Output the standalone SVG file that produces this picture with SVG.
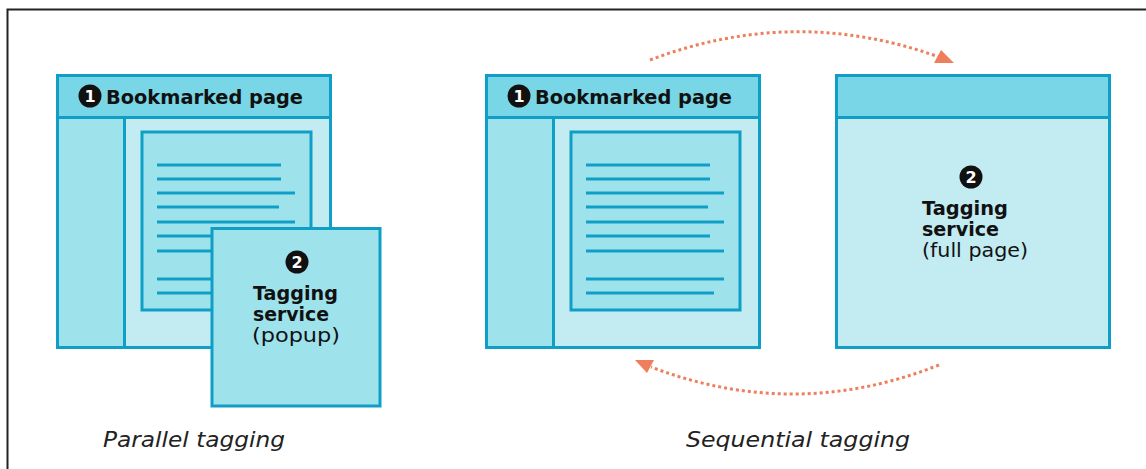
<svg xmlns="http://www.w3.org/2000/svg" width="1146" height="469" viewBox="0 0 1146 469">
<defs>
<style>
.hdr{fill:#78d6e6;stroke:#0f9fc6;stroke-width:3}
.mid{fill:#9ee2ec;stroke:#0f9fc6;stroke-width:3}
.lt{fill:#c2ebf2;stroke:#0f9fc6;stroke-width:3}
.ln{stroke:#0f9fc6;stroke-width:3;fill:none}
.b{font-family:"DejaVu Sans","Liberation Sans",sans-serif;font-weight:bold;fill:#111}
.r{font-family:"DejaVu Sans","Liberation Sans",sans-serif;fill:#111}
.it{font-family:"DejaVu Sans","Liberation Sans",sans-serif;font-style:italic;fill:#222;font-size:21px}
.num{font-family:"DejaVu Sans","Liberation Sans",sans-serif;font-weight:bold;fill:#fff;font-size:16px;text-anchor:middle}
.arc{fill:none;stroke:#ef7f5c;stroke-width:3;stroke-dasharray:3 3}
.ah{fill:#ef7f5c}
</style>
</defs>
<rect width="1146" height="469" fill="#fff"/>
<path d="M7.5 469 V9.5 H1146" fill="none" stroke="#222" stroke-width="2"/>

<g id="parallel-bookmarked">
<rect class="lt" x="57.5" y="75.5" width="273" height="272"/>
<rect class="mid" x="57.5" y="117.5" width="67" height="230"/>
<rect class="hdr" x="57.5" y="75.5" width="273" height="42"/>
<rect class="mid" x="142" y="132" width="169" height="178"/>
<g class="ln">
<path d="M157 165H281M157 179H281M157 193H295M157 207H279M157 222H295M157 236H281M157 251H295M157 279H295M157 293H285"/>
</g>
<circle cx="90" cy="96" r="11.5" fill="#111"/>
<text class="num" x="90" y="101.8">1</text>
<text class="b" x="106" y="104" font-size="20" textLength="197" lengthAdjust="spacingAndGlyphs">Bookmarked page</text>
</g>

<g id="parallel-popup">
<rect class="mid" x="212" y="228.5" width="168" height="177.5"/>
<circle cx="297" cy="262" r="11.5" fill="#111"/>
<text class="num" x="297" y="267.8">2</text>
<text class="b" x="253" y="300" font-size="19" textLength="85" lengthAdjust="spacingAndGlyphs">Tagging</text>
<text class="b" x="253" y="321" font-size="19" textLength="76" lengthAdjust="spacingAndGlyphs">service</text>
<text class="r" x="252" y="342" font-size="19.5" textLength="88" lengthAdjust="spacingAndGlyphs">(popup)</text>
</g>

<g id="sequential-bookmarked">
<rect class="lt" x="486.5" y="75.5" width="273" height="272"/>
<rect class="mid" x="486.5" y="117.5" width="67" height="230"/>
<rect class="hdr" x="486.5" y="75.5" width="273" height="42"/>
<rect class="mid" x="571" y="132" width="169" height="178"/>
<g class="ln">
<path d="M586 165H710M586 179H710M586 193H724M586 207H708M586 222H724M586 236H710M586 251H724M586 279H724M586 293H714"/>
</g>
<circle cx="519" cy="96" r="11.5" fill="#111"/>
<text class="num" x="519" y="101.8">1</text>
<text class="b" x="535" y="104" font-size="20" textLength="197" lengthAdjust="spacingAndGlyphs">Bookmarked page</text>
</g>

<g id="sequential-fullpage">
<rect class="lt" x="836.5" y="75.5" width="273" height="272"/>
<rect class="hdr" x="836.5" y="75.5" width="273" height="42"/>
<circle cx="971" cy="177" r="11.5" fill="#111"/>
<text class="num" x="971" y="182.8">2</text>
<text class="b" x="922" y="215" font-size="19" textLength="86" lengthAdjust="spacingAndGlyphs">Tagging</text>
<text class="b" x="922" y="236" font-size="19" textLength="77" lengthAdjust="spacingAndGlyphs">service</text>
<text class="r" x="922" y="257" font-size="19.5" textLength="106" lengthAdjust="spacingAndGlyphs">(full page)</text>
</g>

<g id="connectors">
<path class="arc" d="M650 60 Q795 5 939 57"/>
<polygon class="ah" points="941,50 934,63 954,63"/>
<path class="arc" d="M939 365 Q795 422 651 367"/>
<polygon class="ah" points="635,360 654,360 647,373"/>
</g>

<g id="labels">
<text class="it" x="103" y="447" textLength="182" lengthAdjust="spacingAndGlyphs">Parallel tagging</text>
<text class="it" x="686" y="447" textLength="224" lengthAdjust="spacingAndGlyphs">Sequential tagging</text>
</g>
</svg>
